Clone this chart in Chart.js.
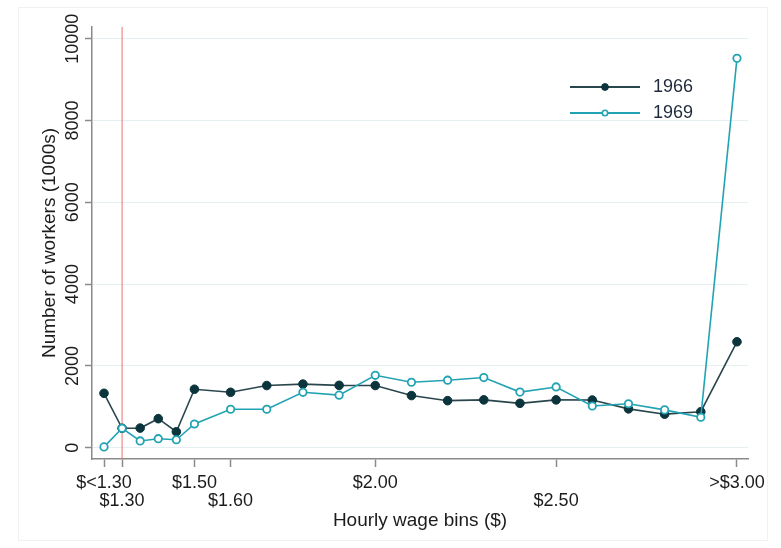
<!DOCTYPE html>
<html><head><meta charset="utf-8">
<script src="https://cdn.jsdelivr.net/npm/chart.js@4"></script>
<style>html,body{margin:0;padding:0;background:#fff;}canvas{display:block;}</style>
</head><body>
<canvas id="c" width="781" height="548"></canvas>
<script>
// ---- data ----
const wageBins = [1.25, 1.30, 1.35, 1.40, 1.45, 1.50, 1.60, 1.70, 1.80, 1.90, 2.00, 2.10, 2.20, 2.30, 2.40, 2.50, 2.60, 2.70, 2.80, 2.90, 3.00];
const workers1966 = [1330, 475, 480, 710, 390, 1430, 1355, 1520, 1555, 1525, 1520, 1275, 1150, 1170, 1085, 1170, 1165, 950, 820, 880, 2590];
const workers1969 = [20, 475, 165, 220, 195, 580, 940, 940, 1355, 1285, 1770, 1600, 1650, 1715, 1360, 1485, 1020, 1075, 925, 745, 9520];
const seriesNames = ['1966', '1969'];
const xTickValues = [1.25, 1.30, 1.50, 1.60, 2.00, 2.50, 3.00];
const xTickLabels = ['$<1.30', '$1.30', '$1.50', '$1.60', '$2.00', '$2.50', '>$3.00'];
const xTickRows = [0, 1, 0, 1, 0, 1, 0];
const yTickValues = [0, 2000, 4000, 6000, 8000, 10000];
const minimumWage = 1.30;
const xRange = [1.2168, 3.0305];
const yRange = [-276, 10286];

// ---- styles ----
const FONT = "'Liberation Sans', Arial, sans-serif";
const C66 = '#0b343c', L66 = '#2a464d';
const C69 = '#22a3b3';
const AXIS = '#8a8a8a';
const TXT = '#1c1c1c';

function legendIcon(lineColor, markColor, fill, r, bw) {
  const cv = document.createElement('canvas');
  cv.width = 74; cv.height = 14;
  const g = cv.getContext('2d');
  g.strokeStyle = lineColor; g.lineWidth = 1.8;
  g.beginPath(); g.moveTo(0, 7); g.lineTo(70, 7); g.stroke();
  g.beginPath(); g.arc(35, 7, r, 0, Math.PI * 2);
  g.fillStyle = fill; g.fill();
  g.strokeStyle = markColor; g.lineWidth = bw; g.stroke();
  return cv;
}
const legendIcons = [legendIcon(L66, C66, C66, 3.4, 1), legendIcon(C69, C69, '#ffffff', 2.7, 1.6)];

const legendPlacer = {
  id: 'legendPlacer',
  afterLayout(chart) {
    const lg = chart.legend;
    if (!lg) return;
    lg.left = 562; lg.top = 70;
    lg.right = chart.chartArea.right; lg.bottom = chart.chartArea.bottom;
    lg.width = lg.right - lg.left; lg.height = lg.bottom - lg.top;
  }
};
const frame = {
  id: 'frame',
  beforeDraw(chart) {
    const g = chart.ctx;
    g.save(); g.strokeStyle = '#f1f1f1'; g.lineWidth = 1;
    g.strokeRect(18.5, 7.5, 749, 533); g.restore();
  }
};

new Chart(document.getElementById('c'), {
  type: 'line',
  data: {
    datasets: [
      {
        label: seriesNames[0],
        data: wageBins.map((x, i) => ({x, y: workers1966[i]})),
        borderColor: L66, borderWidth: 1.6,
        pointRadius: 4.3, pointBorderWidth: 1,
        pointBackgroundColor: C66, pointBorderColor: C66,
        tension: 0, order: 1
      },
      {
        label: seriesNames[1],
        data: wageBins.map((x, i) => ({x, y: workers1969[i]})),
        borderColor: C69, borderWidth: 1.6,
        pointRadius: 3.7, pointBorderWidth: 1.8,
        pointBackgroundColor: '#ffffff', pointBorderColor: C69,
        tension: 0, order: 0
      },
      {
        label: 'min wage',
        data: [{x: minimumWage, y: yRange[0]}, {x: minimumWage, y: yRange[1]}],
        borderColor: '#e97373', borderWidth: 1,
        pointRadius: 0, order: 2
      }
    ]
  },
  options: {
    responsive: false, animation: false, devicePixelRatio: 1,
    layout: {padding: {left: 0, top: 27, right: 33, bottom: 0}},
    plugins: {
      tooltip: {enabled: false},
      legend: {
        position: 'chartArea', align: 'start',
        labels: {
          usePointStyle: true, pointStyleWidth: 74, padding: 8,
          textAlign: 'left',
          color: '#1e2a3a', font: {family: FONT, size: 18},
          filter: (it) => it.datasetIndex < 2,
          sort: (a, b) => a.datasetIndex - b.datasetIndex,
          generateLabels(chart) {
            const items = Chart.defaults.plugins.legend.labels.generateLabels(chart);
            items.forEach(it => { if (it.datasetIndex < 2) it.pointStyle = legendIcons[it.datasetIndex]; });
            return items;
          }
        }
      }
    },
    scales: {
      x: {
        type: 'linear', min: xRange[0], max: xRange[1],
        afterBuildTicks(s) { s.ticks = xTickValues.map(v => ({value: v})); },
        afterFit(s) { s.height = 89; },
        grid: {drawOnChartArea: false, tickLength: 8, tickColor: AXIS, tickWidth: 1.5},
        border: {color: AXIS, width: 1.5},
        ticks: {
          autoSkip: false, maxRotation: 0, minRotation: 0, padding: 7,
          color: TXT, font: {family: FONT, size: 18, lineHeight: 1},
          callback(v) {
            const i = xTickValues.findIndex(t => Math.abs(t - v) < 1e-6);
            if (i < 0) return '';
            return xTickRows[i] === 0 ? [xTickLabels[i]] : ['', xTickLabels[i]];
          }
        },
        title: {display: true, text: 'Hourly wage bins ($)', color: TXT,
                font: {family: FONT, size: 19}, padding: {top: 0, bottom: 15.6}}
      },
      y: {
        type: 'linear', min: yRange[0], max: yRange[1],
        afterBuildTicks(s) { s.ticks = yTickValues.map(v => ({value: v})); },
        afterFit(s) { s.width = 92; },
        grid: {color: '#e5eef1', lineWidth: 1, tickLength: 7, tickColor: AXIS, tickWidth: 1.5},
        border: {color: AXIS, width: 1.5},
        ticks: {
          minRotation: 90, maxRotation: 90, crossAlign: 'center', padding: -13,
          color: TXT, font: {family: FONT, size: 18},
          callback: (v) => String(v)
        },
        title: {display: true, text: 'Number of workers (1000s)', color: TXT,
                font: {family: FONT, size: 19}, padding: {top: 38.6, bottom: 0}}
      }
    }
  },
  plugins: [legendPlacer, frame]
});
</script>
</body></html>
